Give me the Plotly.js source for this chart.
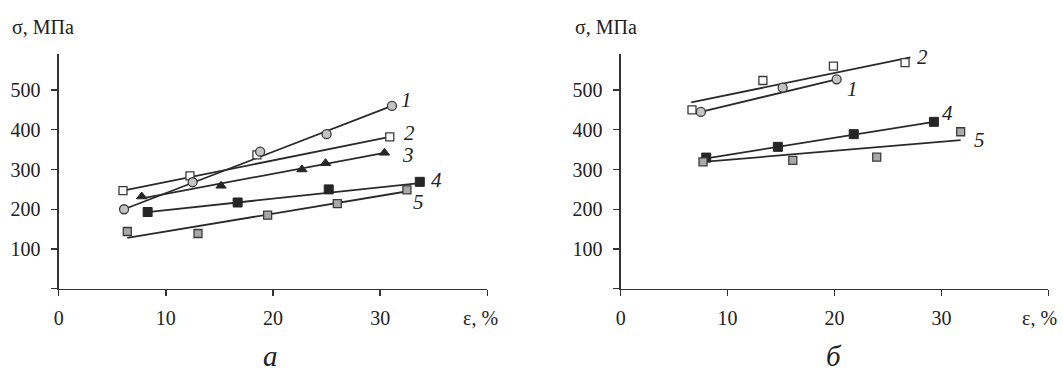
<!DOCTYPE html>
<html>
<head>
<meta charset="utf-8">
<script src="https://cdn.plot.ly/plotly-3.0.1.min.js"></script>
<style>.main-svg text{font-family:'Liberation Serif',serif !important;}</style>
</head>
<body style="margin:0">
<div id="chart" style="width:1063px;height:374px"></div>
<script>
// ---- data: panel "а" ----
var a1x = [6.1, 12.5, 18.8, 25.0, 31.1];
var a1y = [200, 268, 345, 389, 460];
var a1fitX = [6.1, 31.1];
var a1fitY = [200, 460];

var a2x = [6.0, 12.25, 18.5, 30.9];
var a2y = [247, 284, 337, 382];
var a2fitX = [6.0, 30.9];
var a2fitY = [247, 382];

var a3x = [7.75, 15.15, 22.7, 24.9, 30.4];
var a3y = [232, 259, 300, 316, 342];
var a3fitX = [7.9, 30.4];
var a3fitY = [228, 342];

var a4x = [8.3, 16.7, 25.2, 33.7];
var a4y = [193, 217, 250, 269];
var a4fitX = [8.3, 33.7];
var a4fitY = [193, 266];

var a5x = [6.4, 13.0, 19.5, 26.0, 32.5];
var a5y = [144, 139, 185, 214, 249];
var a5fitX = [6.4, 32.3];
var a5fitY = [128, 244];

// ---- data: panel "б" ----
var b1x = [7.5, 15.15, 20.2];
var b1y = [445, 506, 527];
var b1fitX = [7.5, 20.2];
var b1fitY = [445, 527];

var b2x = [6.67, 13.3, 19.9, 26.6];
var b2y = [450, 524, 560, 569];
var b2fitX = [6.6, 27.1];
var b2fitY = [469, 582];

var b4x = [8.0, 14.7, 21.8, 29.3];
var b4y = [330, 357, 389, 420];
var b4fitX = [8.0, 29.3];
var b4fitY = [328, 420];

var b5x = [7.7, 16.1, 23.95, 31.8];
var b5y = [319, 323, 331, 395];
var b5fitX = [7.7, 31.8];
var b5fitY = [319, 374];

// tick labels
var xTickVals = [0, 10, 20, 30, 40];
var xTickText = ['0', '10', '20', '30', ''];
var yTickVals = [0, 100, 200, 300, 400, 500];
var yTickText = ['', '100', '200', '300', '400', '500'];

// curve labels
var aLabels = ['1', '2', '3', '4', '5'];
var aLabelX = [32.5, 32.7, 32.6, 35.3, 33.6];
var aLabelY = [475, 391, 336, 273, 219];
var bLabels = ['2', '1', '4', '5'];
var bLabelX = [28.2, 21.7, 30.6, 33.6];
var bLabelY = [584, 502, 441, 374];

var FONT = 'Liberation Serif';
var LINE = '#2a2a2a';

var mk = {
  circle:  {symbol: 'circle', size: 9, color: '#c4c4c4', line: {color: '#3a3a3a', width: 1.3}},
  open:    {symbol: 'square', size: 8, color: '#ffffff', line: {color: '#3a3a3a', width: 1.3}},
  tri:     {symbol: 'triangle-up', size: 9, color: '#262626', line: {color: '#262626', width: 1}},
  black:   {symbol: 'square', size: 9, color: '#262626', line: {color: '#262626', width: 1}},
  gray:    {symbol: 'square', size: 8, color: '#a9a9a9', line: {color: '#3a3a3a', width: 1.3}}
};

function fit(x, y, ax) {
  return {x: x, y: y, xaxis: ax[0], yaxis: ax[1], mode: 'lines', type: 'scatter',
    line: {color: LINE, width: 1.8}, hoverinfo: 'skip', showlegend: false};
}
function pts(x, y, m, ax) {
  return {x: x, y: y, xaxis: ax[0], yaxis: ax[1], mode: 'markers', type: 'scatter',
    marker: m, showlegend: false};
}
var A = ['x', 'y'], B = ['x2', 'y2'];

var data = [
  fit(a1fitX, a1fitY, A), fit(a2fitX, a2fitY, A), fit(a3fitX, a3fitY, A),
  fit(a4fitX, a4fitY, A), fit(a5fitX, a5fitY, A),
  fit(b1fitX, b1fitY, B), fit(b2fitX, b2fitY, B), fit(b4fitX, b4fitY, B), fit(b5fitX, b5fitY, B),
  pts(a2x, a2y, mk.open, A), pts(a1x, a1y, mk.circle, A), pts(a3x, a3y, mk.tri, A),
  pts(a4x, a4y, mk.black, A), pts(a5x, a5y, mk.gray, A),
  pts(b2x, b2y, mk.open, B), pts(b1x, b1y, mk.circle, B),
  pts(b4x, b4y, mk.black, B), pts(b5x, b5y, mk.gray, B)
];

function xax(domain, anchor) {
  return {domain: domain, range: [0, 40], anchor: anchor, showline: true, linecolor: '#333', linewidth: 1.3,
    ticks: 'outside', ticklen: 6, tickwidth: 1.3, tickcolor: '#333',
    tickmode: 'array', tickvals: xTickVals, ticktext: xTickText,
    showgrid: false, zeroline: false, ticklabelstandoff: 5,
    tickfont: {family: FONT, size: 20, color: '#222'}};
}
function yax(domain, anchor) {
  return {domain: domain, range: [0, 590], anchor: anchor, showline: true, linecolor: '#333', linewidth: 1.3,
    ticks: 'outside', ticklen: 6, tickwidth: 1.3, tickcolor: '#333',
    tickmode: 'array', tickvals: yTickVals, ticktext: yTickText,
    showgrid: false, zeroline: false, ticklabelstandoff: 7,
    tickfont: {family: FONT, size: 20, color: '#222'}};
}

var W = 1063, H = 374;
var yDom = [1 - 288.7 / H, 1 - 54.3 / H];

var ann = [];
function txt(x, y, t, size, xanchor, italic) {
  ann.push({xref: 'paper', yref: 'paper', x: x / W, y: 1 - y / H, text: italic ? '<i>' + t + '</i>' : t,
    showarrow: false, xanchor: xanchor, yanchor: 'middle',
    font: {family: FONT, size: size, color: '#222'}});
}
txt(10, 27, 'σ, МПа', 20, 'left');
txt(573, 27, 'σ, МПа', 20, 'left');
txt(461, 318, 'ε, %', 20, 'left');
txt(1020, 318, 'ε, %', 20, 'left');
txt(270, 356, 'а', 29, 'center', true);
txt(834, 356, 'б', 29, 'center', true);

for (var i = 0; i < aLabels.length; i++) {
  ann.push({xref: 'x', yref: 'y', x: aLabelX[i], y: aLabelY[i], text: '<i>' + aLabels[i] + '</i>',
    showarrow: false, xanchor: 'center', yanchor: 'middle', font: {family: FONT, size: 21, color: '#222'}});
}
for (var j = 0; j < bLabels.length; j++) {
  ann.push({xref: 'x2', yref: 'y2', x: bLabelX[j], y: bLabelY[j], text: '<i>' + bLabels[j] + '</i>',
    showarrow: false, xanchor: 'center', yanchor: 'middle', font: {family: FONT, size: 21, color: '#222'}});
}

var layout = {
  width: W, height: H, margin: {l: 0, r: 0, t: 0, b: 0},
  paper_bgcolor: '#fff', plot_bgcolor: '#fff', showlegend: false,
  font: {family: FONT, size: 20, color: '#222'},
  xaxis: xax([58.7 / W, 487.3 / W], 'y'),
  yaxis: yax(yDom, 'x'),
  xaxis2: xax([620.7 / W, 1048.3 / W], 'y2'),
  yaxis2: yax(yDom, 'x2'),
  annotations: ann
};

Plotly.newPlot('chart', data, layout, {displayModeBar: false, staticPlot: true});
</script>
</body>
</html>
